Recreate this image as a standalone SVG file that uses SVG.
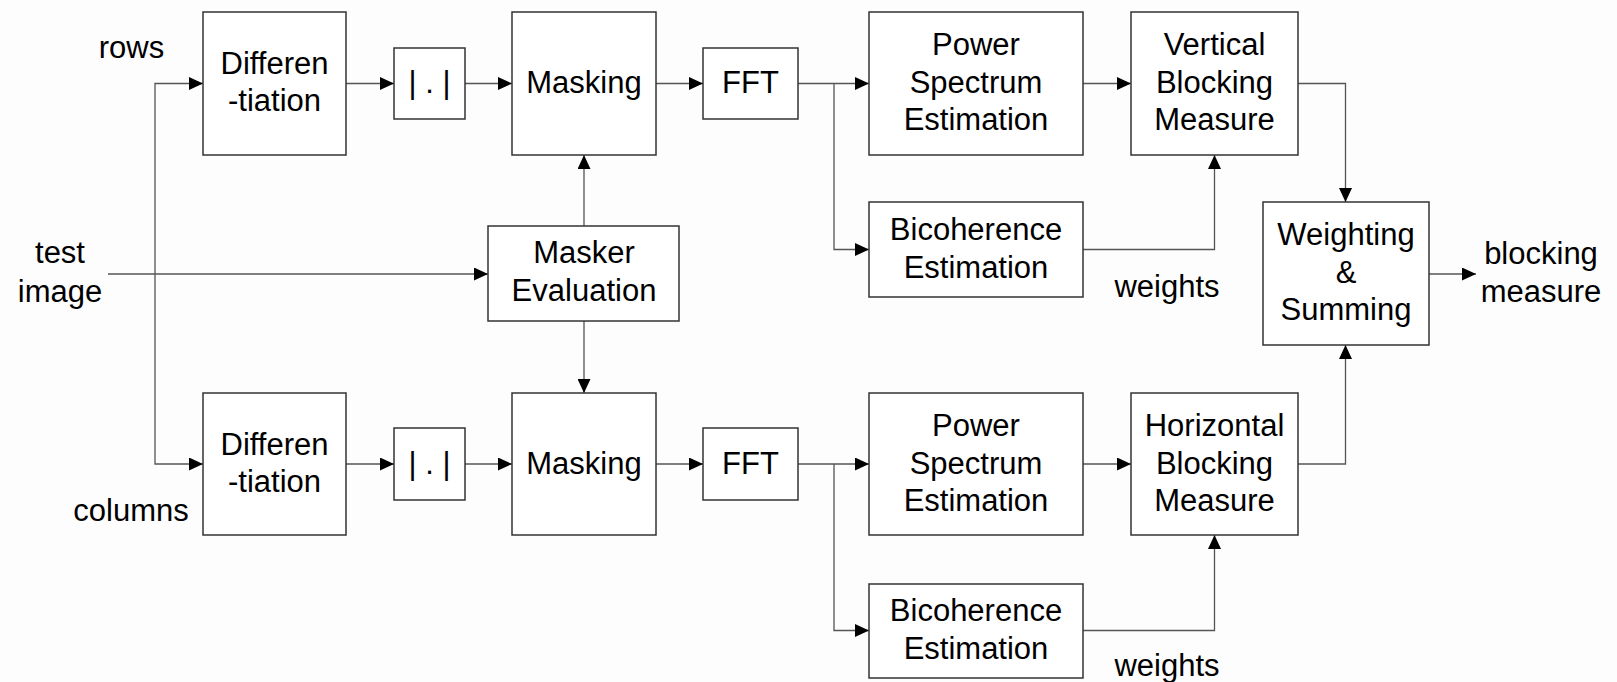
<svg xmlns="http://www.w3.org/2000/svg" width="1617" height="682" viewBox="0 0 1617 682">
<defs>
<marker id="ah" markerUnits="userSpaceOnUse" markerWidth="14" markerHeight="13" refX="14" refY="6.5" orient="auto">
<path d="M0,0 L14,6.5 L0,13 z" fill="#000"/>
</marker>
<style>
.box{fill:#fff;stroke:#333;stroke-width:1.5}
.t{font-family:"Liberation Sans",Arial,sans-serif;font-size:31px;fill:#000;text-anchor:middle}
.c path{fill:none;stroke:#555;stroke-width:1.3;marker-end:url(#ah)}
</style>
</defs>
<rect width="1617" height="682" fill="#fdfdfd"/>

<g id="labels">
<text class="t" x="131.5" y="58">rows</text>
<text class="t" x="131" y="521">columns</text>
<text class="t" x="60" y="263">test</text>
<text class="t" x="60" y="302">image</text>
<text class="t" x="1541" y="264">blocking</text>
<text class="t" x="1541" y="302">measure</text>
<text class="t" x="1167" y="297">weights</text>
<text class="t" x="1167" y="676">weights</text>
</g>

<g class="c" id="connectors">
<path d="M155,274 V83.5 H203"/>
<path d="M155,274 V464 H203"/>
<path d="M108,274 H488"/>
<path d="M346,83.5 H394"/>
<path d="M465,83.5 H512"/>
<path d="M656,83.5 H703"/>
<path d="M798,83.5 H869"/>
<path d="M834,83.5 V249.5 H869"/>
<path d="M1083,83.5 H1131"/>
<path d="M1083,249.5 H1214.5 V155"/>
<path d="M1298,83.5 H1345.5 V202"/>
<path d="M1429,274 H1476"/>
<path d="M584,226 V155"/>
<path d="M584,321 V393"/>
<path d="M346,464 H394"/>
<path d="M465,464 H512"/>
<path d="M656,464 H703"/>
<path d="M798,464 H869"/>
<path d="M834,464 V630.5 H869"/>
<path d="M1083,464 H1131"/>
<path d="M1083,630.5 H1214.5 V535"/>
<path d="M1298,464 H1345.5 V345"/>
</g>

<g id="diff-rows"><rect class="box" x="203" y="12" width="143" height="143"/>
<text class="t" x="274.5" y="74">Differen</text><text class="t" x="274.5" y="111">-tiation</text></g>
<g id="abs-rows"><rect class="box" x="394" y="48" width="71" height="71"/>
<text class="t" x="429.5" y="93">| . |</text></g>
<g id="mask-rows"><rect class="box" x="512" y="12" width="144" height="143"/>
<text class="t" x="584" y="93">Masking</text></g>
<g id="fft-rows"><rect class="box" x="703" y="48" width="95" height="71"/>
<text class="t" x="750.5" y="93">FFT</text></g>
<g id="ps-rows"><rect class="box" x="869" y="12" width="214" height="143"/>
<text class="t" x="976" y="55">Power</text><text class="t" x="976" y="93">Spectrum</text><text class="t" x="976" y="130">Estimation</text></g>
<g id="bic-rows"><rect class="box" x="869" y="202" width="214" height="95"/>
<text class="t" x="976" y="240">Bicoherence</text><text class="t" x="976" y="278">Estimation</text></g>
<g id="vbm"><rect class="box" x="1131" y="12" width="167" height="143"/>
<text class="t" x="1214.5" y="55">Vertical</text><text class="t" x="1214.5" y="93">Blocking</text><text class="t" x="1214.5" y="130">Measure</text></g>
<g id="masker"><rect class="box" x="488" y="226" width="191" height="95"/>
<text class="t" x="584" y="263">Masker</text><text class="t" x="584" y="301">Evaluation</text></g>
<g id="weighting"><rect class="box" x="1263" y="202" width="166" height="143"/>
<text class="t" x="1346" y="245">Weighting</text><text class="t" x="1346" y="283">&amp;</text><text class="t" x="1346" y="320">Summing</text></g>

<g id="diff-cols"><rect class="box" x="203" y="393" width="143" height="142"/>
<text class="t" x="274.5" y="455">Differen</text><text class="t" x="274.5" y="492">-tiation</text></g>
<g id="abs-cols"><rect class="box" x="394" y="428" width="71" height="72"/>
<text class="t" x="429.5" y="474">| . |</text></g>
<g id="mask-cols"><rect class="box" x="512" y="393" width="144" height="142"/>
<text class="t" x="584" y="474">Masking</text></g>
<g id="fft-cols"><rect class="box" x="703" y="428" width="95" height="72"/>
<text class="t" x="750.5" y="474">FFT</text></g>
<g id="ps-cols"><rect class="box" x="869" y="393" width="214" height="142"/>
<text class="t" x="976" y="436">Power</text><text class="t" x="976" y="474">Spectrum</text><text class="t" x="976" y="511">Estimation</text></g>
<g id="bic-cols"><rect class="box" x="869" y="584" width="214" height="94"/>
<text class="t" x="976" y="621">Bicoherence</text><text class="t" x="976" y="659">Estimation</text></g>
<g id="hbm"><rect class="box" x="1131" y="393" width="167" height="142"/>
<text class="t" x="1214.5" y="436">Horizontal</text><text class="t" x="1214.5" y="474">Blocking</text><text class="t" x="1214.5" y="511">Measure</text></g>
</svg>
